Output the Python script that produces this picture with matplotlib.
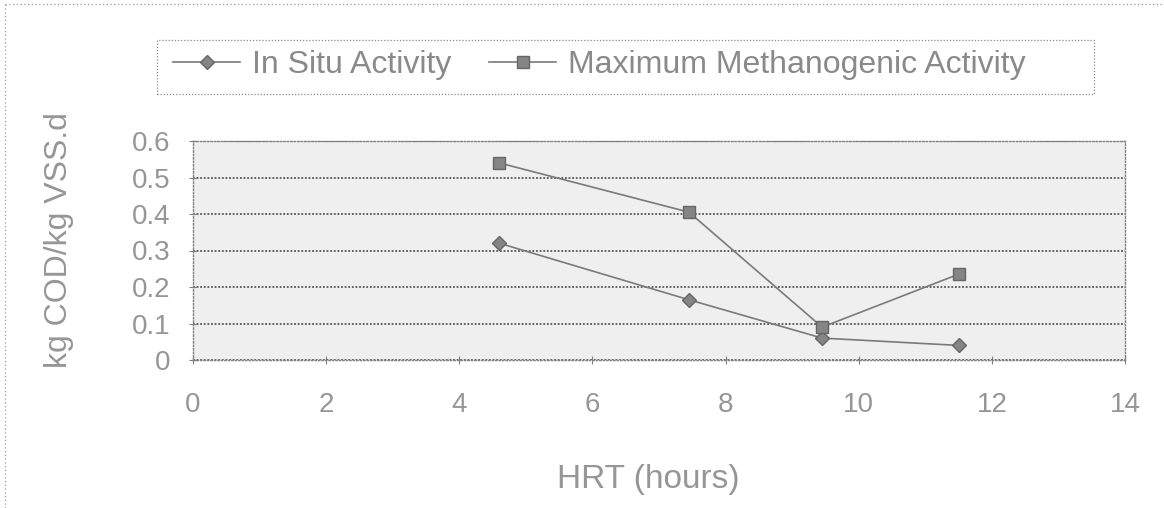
import matplotlib.pyplot as plt
from matplotlib.lines import Line2D
from matplotlib.patches import Rectangle

## -----------------------------------------------------------------------------
## HRT vs methanogenic activity (scanned Excel-style chart)
## -----------------------------------------------------------------------------

plt.rcParams["font.family"] = ["Liberation Sans", "DejaVu Sans"]

grey_text = "#969696"
grey_line = "#7a7a7a"

# data
hrt = [4.6, 7.45, 9.45, 11.5]
in_situ = [0.32, 0.165, 0.06, 0.04]
max_methanogenic = [0.54, 0.405, 0.09, 0.235]

x_ticks = [0, 2, 4, 6, 8, 10, 12, 14]
y_ticks = [0, 0.1, 0.2, 0.3, 0.4, 0.5, 0.6]
y_tick_labels = ["0", "0.1", "0.2", "0.3", "0.4", "0.5", "0.6"]

W, H = 1164, 508

## -----------------------------------------------------------------------------
fig = plt.figure(figsize=(W / 100, H / 100), dpi=100)
ax = fig.add_axes([193 / W, 1 - 360 / H, (1125 - 193) / W, (360 - 141) / H])
ax.set_facecolor("#efefef")

ax.plot(hrt, in_situ, color=grey_line, lw=1.2, marker="D", ms=7,
        mfc="#858585", mec="#666666", label="In Situ Activity")
ax.plot(hrt, max_methanogenic, color=grey_line, lw=1.2, marker="s", ms=8,
        mfc="#858585", mec="#666666", label="Maximum Methanogenic Activity")

ax.set_xlim(0, 14)
ax.set_ylim(0, 0.6)
ax.set_xticks(x_ticks)
ax.set_yticks(y_ticks)
ax.set_yticklabels(y_tick_labels)
ax.yaxis.grid(True, color="#555555", linestyle=(0, (1, 1)), lw=1.3)
ax.set_axisbelow(True)

for side in ["left", "right", "top", "bottom"]:
    ax.spines[side].set_linestyle((0, (1, 1.5)))
    ax.spines[side].set_color("#808080")
    ax.spines[side].set_linewidth(1.0)

ax.tick_params(axis="both", colors="#808080", labelcolor=grey_text,
               labelsize=20, direction="inout", length=6)
ax.tick_params(axis="x", pad=20)
ax.tick_params(axis="y", pad=13)

ax.set_xlabel("HRT (hours)", fontsize=24, color=grey_text)
ax.set_ylabel("kg COD/kg VSS.d", fontsize=23, color=grey_text)
ax.xaxis.set_label_coords(0.489, -0.475)
ax.yaxis.set_label_coords(-0.128, 0.548)

leg = fig.legend(loc="upper left", bbox_to_anchor=(167 / W, 1 - 44 / H),
                 ncol=2, fontsize=23, frameon=False,
                 handlelength=2.1, columnspacing=1.2, handletextpad=0.35,
                 borderpad=0.2, borderaxespad=0.0)
for t in leg.get_texts():
    t.set_color("#8a8a8a")

# dotted legend box, wider than its entries as in the scan
fig.add_artist(Rectangle((157 / W, 1 - 94 / H), (1094 - 157) / W, 54 / H,
                         transform=fig.transFigure, fill=False,
                         edgecolor="#8a8a8a", lw=0.9, ls=(0, (1, 1.5))))

# dotted chart-area border (top and left visible in the scan)
fig.add_artist(Line2D([0.004, 1.0], [0.992, 0.992], transform=fig.transFigure,
                      color="#9a9a9a", lw=0.9, ls=(0, (1, 2))))
fig.add_artist(Line2D([0.004, 0.004], [0.0, 0.992], transform=fig.transFigure,
                      color="#9a9a9a", lw=0.9, ls=(0, (1, 2))))

fig.savefig("out.png", dpi=100)
